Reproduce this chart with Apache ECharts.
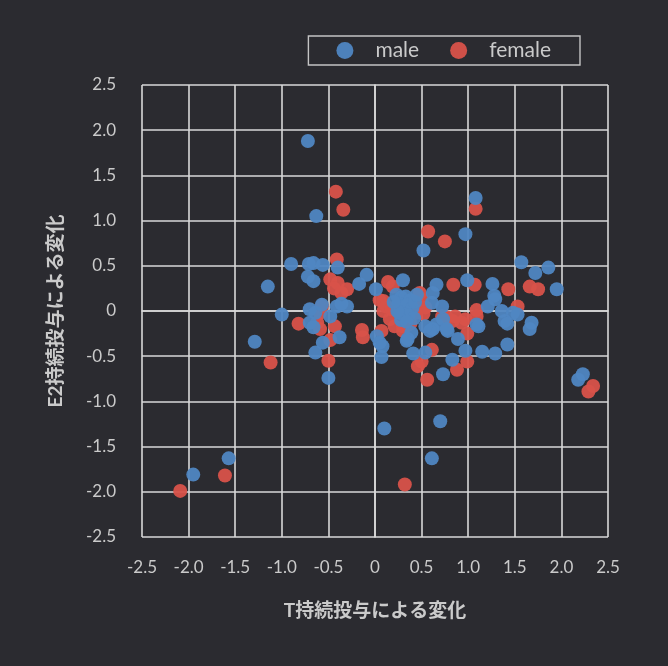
<!DOCTYPE html>
<html>
<head>
<meta charset="utf-8">
<script src="https://cdn.jsdelivr.net/npm/echarts@6/dist/echarts.min.js"></script>
<style>
  html, body { margin: 0; padding: 0; background: #2b2b30; }
  #chart { width: 668px; height: 666px; }
</style>
</head>
<body>
<div id="chart"></div>
<script>
// Change in T (x) vs change in E2 (y) after continuous dosing
const seriesNames = ['male', 'female'];
const axisTicks = [-2.5, -2.0, -1.5, -1.0, -0.5, 0, 0.5, 1.0, 1.5, 2.0, 2.5];

const malePoints = [
  [-0.72, 1.88], [-0.63, 1.05], [1.08, 1.25], [0.97, 0.85], [0.52, 0.67],
  [-0.90, 0.52], [-0.71, 0.52], [-0.66, 0.53], [-0.56, 0.51], [-0.40, 0.48],
  [-1.15, 0.27], [-0.72, 0.38], [-0.66, 0.33], [-0.09, 0.40], [-0.17, 0.30], [0.01, 0.24],
  [0.30, 0.34], [0.66, 0.29], [0.62, 0.20], [0.99, 0.34], [1.26, 0.30], [1.28, 0.17],
  [1.29, 0.13], [1.21, 0.05], [1.36, 0.00],
  [1.57, 0.54], [1.72, 0.42], [1.86, 0.48], [1.95, 0.24],
  [1.48, -0.02], [1.53, -0.04], [1.39, -0.11], [1.42, -0.14], [1.68, -0.13], [1.66, -0.20],
  [1.42, -0.37], [1.15, -0.45], [1.29, -0.47],
  [1.11, -0.17], [1.09, -0.15], [0.97, -0.44], [0.89, -0.31], [0.78, -0.22], [0.66, -0.15],
  [0.73, -0.09], [0.62, -0.20], [0.77, -0.20], [0.83, -0.54], [0.73, -0.70],
  [0.54, -0.46], [0.41, -0.47], [0.35, -0.31], [0.39, -0.24], [0.34, -0.33], [0.59, -0.22], [0.54, -0.17],
  [0.02, -0.28], [0.05, -0.35], [0.07, -0.51], [0.08, -0.39],
  [0.61, 0.09], [0.72, 0.05],
  [0.23, 0.18], [0.28, 0.15], [0.33, 0.16], [0.38, 0.12], [0.25, 0.08], [0.30, 0.05],
  [0.35, 0.07], [0.40, 0.03], [0.43, 0.10], [0.26, -0.02], [0.31, -0.04], [0.36, -0.05],
  [0.42, -0.08], [0.28, -0.10], [0.34, -0.12], [0.24, 0.00], [0.45, 0.18], [0.20, 0.10],
  [-1.00, -0.04], [-1.29, -0.34], [-0.70, 0.02], [-0.64, -0.02], [-0.70, -0.13], [-0.66, -0.18],
  [-0.57, 0.07], [-0.41, 0.05], [-0.30, 0.05], [-0.36, 0.08], [-0.48, -0.06], [-0.38, -0.29],
  [-0.56, -0.35], [-0.64, -0.46], [-0.50, -0.74],
  [0.10, -1.30], [0.70, -1.22], [0.61, -1.63], [-1.57, -1.63], [-1.95, -1.81],
  [2.18, -0.76], [2.23, -0.70]
];

const femalePoints = [
  [-0.42, 1.32], [-0.34, 1.12], [1.08, 1.13], [0.57, 0.88], [0.75, 0.77],
  [-0.41, 0.57], [-0.48, 0.35], [-0.40, 0.31], [-0.30, 0.24], [-0.44, 0.25], [-0.36, 0.20],
  [0.14, 0.32], [0.19, 0.27], [0.84, 0.29], [1.07, 0.29], [1.43, 0.24], [1.66, 0.27], [1.75, 0.24],
  [1.53, 0.05], [1.09, 0.01], [1.09, -0.06], [0.97, -0.09], [0.99, -0.25],
  [0.83, -0.11], [0.93, -0.13], [0.72, -0.06], [0.77, -0.07], [0.86, -0.06],
  [0.99, -0.56], [0.88, -0.65], [0.56, -0.76], [0.46, -0.61], [0.50, -0.56], [0.61, -0.43],
  [0.48, 0.20], [0.50, 0.13], [0.48, 0.05], [0.54, 0.04], [0.52, -0.03],
  [0.09, 0.11], [0.05, 0.12], [0.09, 0.00], [0.16, -0.09], [0.21, -0.17], [0.30, -0.17],
  [0.30, -0.22], [0.12, 0.05], [0.38, -0.14], [0.44, -0.02], [0.18, 0.02],
  [0.07, -0.22], [-0.14, -0.21], [-0.13, -0.29],
  [-0.57, 0.05], [-0.59, -0.02], [-0.82, -0.14], [-0.62, -0.13], [-0.59, -0.20],
  [-0.43, -0.17], [-0.48, -0.32], [-0.50, -0.55], [-1.12, -0.57],
  [0.32, -1.92], [-1.61, -1.82], [-2.09, -1.99], [2.29, -0.89], [2.34, -0.83]
];

const colors = ['#4f86c2', '#d8524a'];
const textColor = '#cacaca';
const lineColor = '#d9d9d9';
const fontFamily = 'Lato, "Noto Sans CJK JP", sans-serif';

const chart = echarts.init(document.getElementById('chart'), null, { renderer: 'canvas' });

const tickFmt = v => {
  const hit = axisTicks.find(t => Math.abs(t - v) < 1e-9);
  if (hit === undefined) return '';
  return hit === 0 ? '0' : hit.toFixed(1);
};

const axisCommon = {
  type: 'value',
  min: -2.5,
  max: 2.5,
  interval: 0.5,
  nameLocation: 'middle',
  nameTextStyle: { color: textColor, fontSize: 19, fontWeight: 'bold', fontFamily },
  axisLine: { show: true, lineStyle: { color: lineColor, width: 1.6 } },
  axisTick: { show: false },
  splitLine: { show: true, lineStyle: { color: lineColor, width: 1.6 } },
  axisLabel: { color: textColor, fontSize: 17, fontFamily, formatter: tickFmt }
};

chart.setOption({
  backgroundColor: '#2b2b30',
  color: colors,
  animation: false,
  legend: {
    data: seriesNames,
    right: 88,
    top: 36,
    itemWidth: 17,
    itemHeight: 17,
    itemGap: 31,
    padding: [4, 29, 4, 28],
    borderColor: '#c4c4c4',
    borderWidth: 1.4,
    icon: 'circle',
    textStyle: { color: textColor, fontSize: 21, fontFamily, padding: [0, 0, 0, 17] }
  },
  grid: { left: 142, right: 60, top: 85, bottom: 129, show: false },
  xAxis: Object.assign({}, axisCommon, {
    name: 'T持続投与による変化',
    nameGap: 64,
    axisLabel: Object.assign({}, axisCommon.axisLabel, { margin: 22 })
  }),
  yAxis: Object.assign({}, axisCommon, {
    name: 'E2持続投与による変化',
    nameGap: 77,
    axisLabel: Object.assign({}, axisCommon.axisLabel, { margin: 26 })
  }),
  series: [
    {
      name: seriesNames[0],
      type: 'scatter',
      symbolSize: 14,
      z: 3,
      data: malePoints,
      itemStyle: { color: colors[0], opacity: 0.95 }
    },
    {
      name: seriesNames[1],
      type: 'scatter',
      symbolSize: 14,
      z: 2,
      data: femalePoints,
      itemStyle: { color: colors[1], opacity: 0.95 }
    }
  ]
});
</script>
</body>
</html>
